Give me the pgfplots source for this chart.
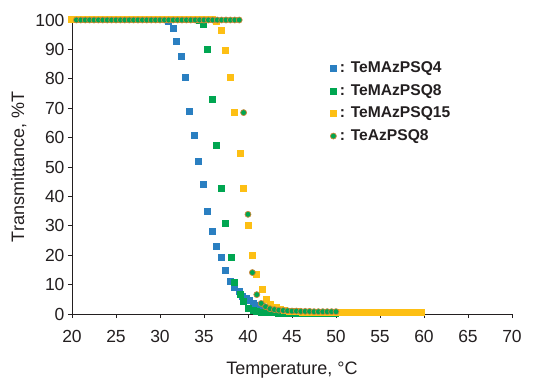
\documentclass[border=0pt]{standalone}
\usepackage{pgfplots}
\pgfplotsset{compat=1.18}
\usepackage{fontspec}
\setmainfont{Liberation Sans}
\definecolor{cblue}{HTML}{2A7FC1}
\definecolor{cgreen}{HTML}{00A651}
\definecolor{cyellow}{HTML}{FDBF14}
\definecolor{cedge}{HTML}{C9873A}
\definecolor{ctext}{HTML}{231F20}
\newcommand{\lf}{\fontsize{15.6bp}{18bp}\selectfont\bfseries}
\begin{document}
\begin{tikzpicture}
\begin{axis}[
  scale only axis, width=440bp, height=294bp,
  xmin=20, xmax=70, ymin=0, ymax=100,
  axis lines*=left,
  axis line style={ctext, line width=0.8bp},
  xtick={20,25,...,70}, ytick={0,10,...,100},
  tick align=outside, major tick length=4bp,
  tick style={ctext, line width=0.8bp},
  /pgf/number format/assume math mode=true,
  ticklabel style={font=\fontsize{17.5bp}{19bp}\selectfont, text=ctext},
  xticklabel style={yshift=-9bp},
  xlabel={Temperature, \textdegree C},
  ylabel={Transmittance, \%T},
  every axis x label/.style={at={(axis description cs:0.5,-0.19)}, anchor=center, font=\fontsize{18bp}{20bp}\selectfont, text=ctext},
  every axis y label/.style={at={(axis description cs:-0.121,0.5)}, anchor=center, rotate=90, font=\fontsize{18bp}{20bp}\selectfont, text=ctext},
  clip=false,
  legend style={at={(axis cs:49.0,87.2)}, anchor=north west, draw=none, fill=none,
    text=ctext,
    row sep=5bp, nodes={inner sep=1.5bp, text height=11.5bp, text depth=3bp}},
  legend cell align=left,
  legend image code/.code={\draw[#1] plot coordinates {(0bp,0bp)}; \path (-3bp,0bp) (5bp,0bp);},
]
\addplot[only marks, mark=square*, mark size=3bp, draw=none, mark options={draw=cblue, fill=cblue, line width=0bp}] coordinates {
(20,100)(20.5,100)(21,100)(21.5,100)(22,100)(22.5,100)(23,100)(23.5,100)(24,100)(24.5,100)
(25,100)(25.5,100)(26,100)(26.5,100)(27,100)(27.5,100)(28,100)(28.5,100)(29,100)(29.5,100)
(30,100)(30.5,100)(31,99.5)
(31.5,97.0)(31.9,92.6)(32.4,87.5)(32.9,80.5)(33.4,68.9)(33.9,60.7)(34.4,51.9)(35.0,44.0)
(35.4,34.8)(36.0,28.0)(36.4,23.0)(37.0,19.2)(37.5,14.8)(38.0,11.0)(38.5,9.1)(39.0,7.5)
(39.4,6.1)(39.8,5.2)(40.2,4.5)(40.6,3.6)(41.0,3.0)(41.5,2.4)(42.0,2.0)(42.5,1.7)(43.0,1.4)
(43.5,1.2)(44.0,1.0)(44.5,0.9)(45.0,0.8)(45.5,0.7)(46.0,0.6)(46.5,0.5)(47.0,0.5)(47.5,0.4)
(48.0,0.4)(48.5,0.4)(49.0,0.3)(49.5,0.3)(50.0,0.3)
};
\addlegendentry{\lf : TeMAzPSQ4}
\addplot[only marks, mark=square*, mark size=3bp, draw=none, mark options={draw=cgreen, fill=cgreen, line width=0bp}] coordinates {
(20,100)(20.5,100)(21,100)(21.5,100)(22,100)(22.5,100)(23,100)(23.5,100)(24,100)(24.5,100)
(25,100)(25.5,100)(26,100)(26.5,100)(27,100)(27.5,100)(28,100)(28.5,100)(29,100)(29.5,100)
(30,100)(30.5,100)(31,100)(31.5,100)(32,100)(32.5,100)(33,100)(33.5,100)(34,100)(34.5,99.8)
(34.9,98.6)(35.4,89.9)(36.0,72.8)(36.4,57.4)(37.0,42.8)(37.5,30.8)(38.1,19.2)(38.5,10.7)
(39.1,6.7)(39.5,4.1)(40.1,2.0)(40.6,1.2)(41.0,0.8)(41.5,0.6)(42.0,0.5)(42.5,0.4)(43.0,0.4)
(43.5,0.3)(44.0,0.3)(44.5,0.3)(45.0,0.3)(45.5,0.3)(46.0,0.3)(46.5,0.3)(47.0,0.3)(47.5,0.3)
(48.0,0.3)(48.5,0.3)(49.0,0.3)(49.5,0.3)(50.0,0.3)
};
\addlegendentry{\lf : TeMAzPSQ8}
\addplot[only marks, mark=square*, mark size=3bp, draw=none, mark options={draw=cyellow, fill=cyellow, line width=0bp}] coordinates {
(20,100)(20.5,100)(21,100)(21.5,100)(22,100)(22.5,100)(23,100)(23.5,100)(24,100)(24.5,100)
(25,100)(25.5,100)(26,100)(26.5,100)(27,100)(27.5,100)(28,100)(28.5,100)(29,100)(29.5,100)
(30,100)(30.5,100)(31,100)(31.5,100)(32,100)(32.5,100)(33,100)(33.5,100)(34,100)(34.5,100)
(35,100)(35.5,100)(36.0,100)
(36.4,99.4)(37.0,96.4)(37.5,89.5)(38.0,80.3)(38.5,68.7)(39.1,54.7)(39.5,42.8)(40.1,30.1)
(40.5,19.9)(41.0,13.5)(41.6,8.4)(42.1,5.0)(42.6,3.3)(43.2,2.3)(43.7,1.7)(44.2,1.3)(44.7,1.0)
(45.2,0.8)(45.7,0.7)(46.2,0.6)(46.7,0.5)(47.2,0.5)(47.7,0.5)(48.2,0.4)(48.7,0.4)(49.2,0.4)
(49.7,0.4)(50.2,0.4)(50.7,0.4)(51.2,0.4)(51.7,0.4)(52.2,0.4)(52.7,0.4)(53.2,0.4)(53.7,0.4)
(54.2,0.4)(54.7,0.4)(55.2,0.4)(55.7,0.4)(56.2,0.4)(56.7,0.4)(57.2,0.4)(57.7,0.4)(58.2,0.4)
(58.7,0.4)(59.2,0.4)(59.7,0.4)
};
\addlegendentry{\lf : TeMAzPSQ15}
\addplot[only marks, mark=*, mark size=3bp, draw=none, mark options={draw=cedge, fill=cgreen, line width=0.7bp}] coordinates {
(20.5,100)(21,100)(21.5,100)(22,100)(22.5,100)(23,100)(23.5,100)(24,100)(24.5,100)
(25,100)(25.5,100)(26,100)(26.5,100)(27,100)(27.5,100)(28,100)(28.5,100)(29,100)(29.5,100)
(30,100)(30.5,100)(31,100)(31.5,100)(32,100)(32.5,100)(33,100)(33.5,100)(34,100)(34.5,100)
(35,100)(35.5,100)(36,100)(36.5,100)(37,100)(37.5,100)(38,100)(38.5,100)(39.0,100)
(39.5,68.5)(40.0,33.9)(40.5,14.1)(41.0,6.6)(41.5,3.6)(42.0,2.5)(42.5,1.8)(43.0,1.5)(43.5,1.3)
(44.0,1.2)(44.5,1.1)(45.0,1.0)(45.5,1.0)(46.0,0.9)(46.5,0.9)(47.0,0.9)(47.5,0.8)(48.0,0.8)
(48.5,0.8)(49.0,0.8)(49.5,0.8)(50.0,0.8)
};
\addlegendentry{\lf : TeAzPSQ8}
\end{axis}
\pgfresetboundingbox
\path ([shift={(-72bp,-64bp)}]current axis.south west) rectangle ([shift={(462bp,314bp)}]current axis.south west);
\end{tikzpicture}
\end{document}
